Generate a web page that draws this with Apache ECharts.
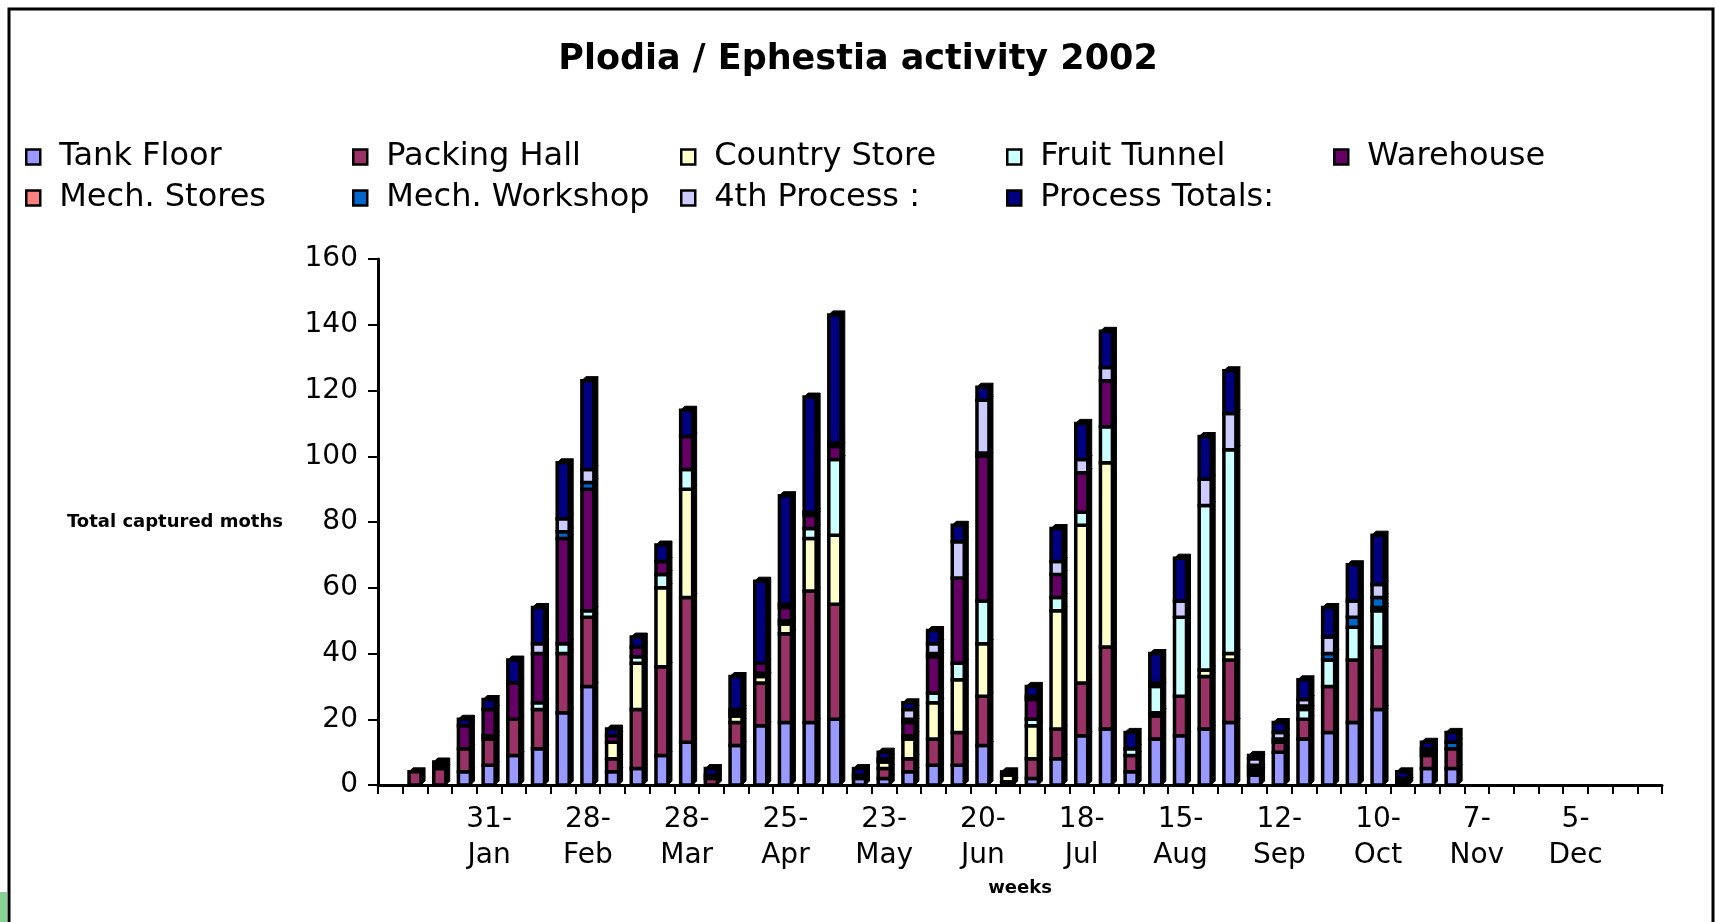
<!DOCTYPE html>
<html>
<head>
<meta charset="utf-8">
<script src="https://cdn.jsdelivr.net/npm/echarts@6/dist/echarts.min.js"></script>
<style>
html,body{margin:0;padding:0;background:#fff;}
#chart{width:1716px;height:922px;}
</style>
</head>
<body>
<div id="chart"></div>
<script>
// ---- DATA ----
const weeks = ['3-Jan','10-Jan','17-Jan','24-Jan','31-Jan','7-Feb','14-Feb','21-Feb','28-Feb','7-Mar','14-Mar','21-Mar','28-Mar','4-Apr','11-Apr','18-Apr','25-Apr','2-May','9-May','16-May','23-May','30-May','6-Jun','13-Jun','20-Jun','27-Jun','4-Jul','11-Jul','18-Jul','25-Jul','1-Aug','8-Aug','15-Aug','22-Aug','29-Aug','5-Sep','12-Sep','19-Sep','26-Sep','3-Oct','10-Oct','17-Oct','24-Oct','31-Oct','7-Nov','14-Nov','21-Nov','28-Nov','5-Dec','12-Dec','19-Dec','26-Dec'];

const seriesNames = ['Tank Floor','Packing Hall','Country Store','Fruit Tunnel','Warehouse','Mech. Stores','Mech. Workshop','4th Process :','Process Totals:'];

const tankFloor     = [0,0,0,4,6,9,11,22,30,4, 5,9,13,0,12,18,19,19,20,2, 2,4,6,6,12,0,2,8,15,17, 4,14,15,17,19,3,10,14,16,19, 23,1,5,5, 0,0,0,0,0,0,0,0];
const packingHall   = [0,4,5,7,8,11,12,18,21,4, 18,27,44,2,7,13,27,40,35,0, 3,4,8,10,15,1,6,9,16,25, 5,7,12,16,19,0,3,6,14,19, 19,0,4,6, 0,0,0,0,0,0,0,0];
const countryStore  = [0,0,0,0,0,0,0,0,0,5, 14,24,33,1,2,2,3,16,21,0, 2,6,11,16,16,2,10,36,48,56, 0,1,0,2,2,0,0,0,0,0, 0,0,0,0, 0,0,0,0,0,0,0,0];
const fruitTunnel   = [0,0,0,0,1,0,2,3,2,0, 2,4,6,0,1,1,1,3,23,0, 0,1,3,5,13,0,2,4,4,11, 2,8,24,50,62,1,1,3,8,10, 11,0,0,0, 0,0,0,0,0,0,0,0];
const warehouse     = [0,0,1,7,8,11,15,32,37,2, 3,4,10,0,1,3,4,4,4,0, 0,4,11,26,44,1,6,7,12,14, 0,0,0,0,0,1,0,0,0,0, 1,0,1,0, 0,0,0,0,0,0,0,0];
const mechStores    = [0,0,0,0,0,0,0,0,0,0, 0,0,0,0,0,0,0,0,0,0, 0,0,0,0,0,0,0,0,0,0, 0,0,0,0,0,0,0,0,0,0, 0,0,0,0, 0,0,0,0,0,0,0,0];
const mechWorkshop  = [0,0,0,0,0,0,0,2,2,0, 0,0,0,0,0,0,0,0,0,1, 1,1,1,0,1,0,1,0,0,0, 0,0,0,0,0,1,0,1,2,3, 3,1,1,2, 0,0,0,0,0,0,0,0];
const fourthProcess = [0,0,0,0,0,0,3,4,4,0, 0,0,0,0,0,0,1,1,1,0, 0,3,3,11,16,0,0,4,4,4, 0,1,5,8,11,2,2,2,5,5, 4,0,0,0, 0,0,0,0,0,0,0,0];
const processTotals = [0,0,1,2,3,7,11,17,27,2, 3,5,8,2,10,25,33,35,39,2, 2,2,4,5,4,0,3,10,11,11, 5,9,13,13,13,1,3,6,9,11, 15,2,2,3, 0,0,0,0,0,0,0,0];

const yTicks = [0,20,40,60,80,100,120,140,160];

// ---- STYLE ----
const seriesValues = [tankFloor,packingHall,countryStore,fruitTunnel,warehouse,mechStores,mechWorkshop,fourthProcess,processTotals];
const colors = ['#9999FF','#993366','#FFFFCC','#CCFFFF','#660066','#FF8080','#0066CC','#CCCCFF','#000080'];
const legendPos = [[25,141],[352,141],[680,141],[1006,141],[1333,141],[25,182],[352,182],[680,182],[1006,182]];
const FONT = 'DejaVu Sans';
const BAR_W = 12, DEPTH = 4;

const chart = echarts.init(document.getElementById('chart'), null, {renderer:'canvas'});

// stacked data built from the arrays: [category index, stack bottom, stack top]
const running = weeks.map(() => 0);
const stackedData = seriesValues.map(vals => vals.map((v, k) => {
  const lo = running[k];
  running[k] += v;
  return [k, lo, running[k]];
}));

function renderItem(params, api) {
  const k = api.value(0), lo = api.value(1), hi = api.value(2);
  if (!(hi > lo)) return null;
  const pb = api.coord([k, lo]);
  const pt = api.coord([k, hi]);
  const x0 = pb[0] - BAR_W / 2, x1 = pb[0] + BAR_W / 2;
  const y0 = pb[1], y1 = pt[1];
  const color = api.visual('color');
  return {
    type: 'group',
    children: [
      {type: 'polygon', shape: {points: [[x1, y1], [x1 + DEPTH, y1 - DEPTH], [x1 + DEPTH, y0 - DEPTH], [x1, y0]]},
       style: {fill: '#000', stroke: '#000', lineWidth: 1}},
      {type: 'polygon', shape: {points: [[x0, y1], [x0 + DEPTH, y1 - DEPTH], [x1 + DEPTH, y1 - DEPTH], [x1, y1]]},
       style: {fill: '#000', stroke: '#000', lineWidth: 1}},
      {type: 'rect', shape: {x: x0, y: y1, width: BAR_W, height: y0 - y1},
       style: {fill: color, stroke: '#000', lineWidth: 3.5}}
    ]
  };
}

const series = seriesNames.map((name, i) => ({
  name: name,
  type: 'custom',
  renderItem: renderItem,
  data: stackedData[i],
  encode: {x: 0, y: [1, 2]},
  itemStyle: {color: colors[i]},
  emphasis: {disabled: true},
  silent: true
}));

const legends = seriesNames.map((name, i) => ({
  data: [name],
  left: legendPos[i][0],
  top: legendPos[i][1],
  padding: 0,
  icon: 'rect',
  itemWidth: 14,
  itemHeight: 15,
  selectedMode: false,
  itemStyle: {borderColor: '#000', borderWidth: 2.5},
  textStyle: {fontFamily: FONT, fontSize: 32, color: '#000', lineHeight: 32, padding: [0,0,0,14]}
}));

chart.setOption({
  animation: false,
  backgroundColor: '#fff',
  color: colors,
  title: {
    text: 'Plodia / Ephestia activity 2002',
    left: 'center',
    top: 37,
    textStyle: {fontFamily: FONT, fontWeight: 'bold', fontSize: 35, color: '#000'}
  },
  legend: legends,
  grid: {left: 378, right: 54, top: 259, bottom: 137, containLabel: false},
  xAxis: {
    type: 'category',
    data: weeks,
    boundaryGap: true,
    name: 'weeks',
    nameLocation: 'middle',
    nameGap: 88,
    nameTextStyle: {fontFamily: FONT, fontWeight: 'bold', fontSize: 18, color: '#000'},
    axisLine: {lineStyle: {color: '#000', width: 3}},
    axisTick: {show: true, interval: 0, length: 9, lineStyle: {color: '#000', width: 2}},
    axisLabel: {
      interval: (idx) => idx > 0 && idx % 4 === 0,
      formatter: (v) => v.replace('-', '-\n'),
      fontFamily: FONT, fontSize: 28, color: '#000', lineHeight: 36, margin: 17
    },
    splitLine: {show: false}
  },
  yAxis: {
    type: 'value',
    min: yTicks[0],
    max: yTicks[yTicks.length - 1],
    interval: yTicks[1] - yTicks[0],
    name: 'Total captured moths',
    nameLocation: 'middle',
    nameRotate: 0,
    nameGap: 95,
    nameTextStyle: {fontFamily: FONT, fontWeight: 'bold', fontSize: 18, color: '#000'},
    axisLine: {show: true, lineStyle: {color: '#000', width: 3}},
    axisTick: {show: true, length: 10, lineStyle: {color: '#000', width: 2}},
    axisLabel: {fontFamily: FONT, fontSize: 28, color: '#000', margin: 20},
    splitLine: {show: false}
  },
  graphic: [
    {type: 'rect', silent: true, z: 100, shape: {x: 9, y: 9, width: 1704, height: 940}, style: {fill: 'none', stroke: '#000', lineWidth: 3}},
    {type: 'rect', silent: true, z: 100, shape: {x: 0, y: 892, width: 7, height: 30}, style: {fill: '#86D195'}}
  ],
  series: series
});
</script>
</body>
</html>
